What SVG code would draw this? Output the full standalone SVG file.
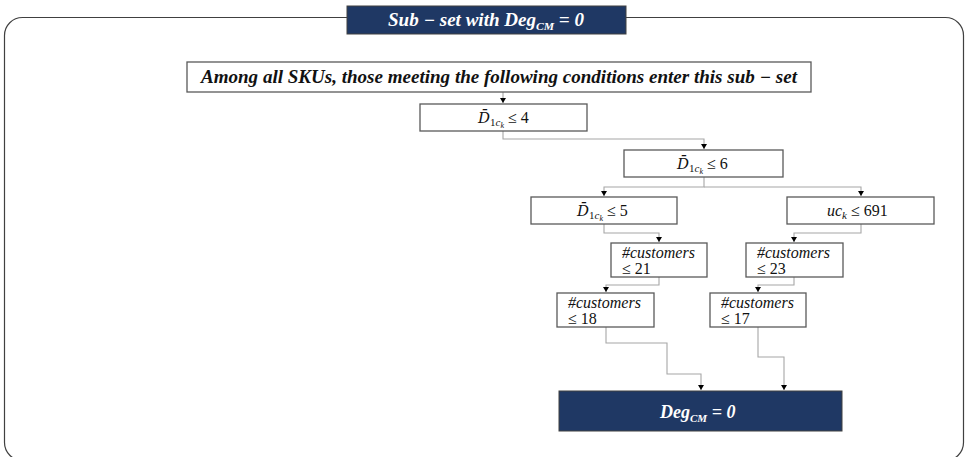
<svg xmlns="http://www.w3.org/2000/svg" width="965" height="457" viewBox="0 0 965 457">
<style>
.frame{fill:none;stroke:#404040;stroke-width:1.2}
.box{fill:#fff;stroke:#595959;stroke-width:1.3}
.dark{fill:#1F3864;stroke:#404040;stroke-width:1}
.conn{fill:none;stroke:#A6A6A6;stroke-width:1.1}
.ti{font-family:"Liberation Serif",serif;font-style:italic;font-size:16px;fill:#111}
.tn{font-family:"Liberation Serif",serif;font-size:16px;fill:#111}
.bh{font-family:"Liberation Serif",serif;font-style:italic;font-weight:bold;font-size:18px;fill:#111}
.wh{font-family:"Liberation Serif",serif;font-style:italic;font-weight:bold;font-size:18px;fill:#fff}
.dd{font-family:"DejaVu Serif",serif;font-style:italic;font-size:15px}
.sub{font-size:11px}
.sub2{font-size:8px}
</style>
<defs>
<marker id="ah" markerUnits="userSpaceOnUse" markerWidth="6" markerHeight="6" refX="5" refY="3" orient="auto">
<path d="M0,0 L5,3 L0,6 z" fill="#000"/>
</marker>
</defs>
<rect class="frame" x="4.5" y="17.5" width="959" height="443" rx="18"/>
<g id="title">
<rect class="dark" x="347" y="6" width="279" height="28"/>
<text class="wh" x="388" y="26" textLength="196" lengthAdjust="spacingAndGlyphs">Sub − set with Deg<tspan class="sub" dy="4" font-size="12">CM</tspan><tspan dy="-4"> = 0</tspan></text>
</g>
<g id="connectors">
<path class="conn" d="M503,92 V103" marker-end="url(#ah)"/>
<path class="conn" d="M503,131 V139 H704 V149" marker-end="url(#ah)"/>
<path class="conn" d="M704,177 V187 H604 V196" marker-end="url(#ah)"/>
<path class="conn" d="M704,187 H861 V196" marker-end="url(#ah)"/>
<path class="conn" d="M604,224 V233 H659 V242" marker-end="url(#ah)"/>
<path class="conn" d="M861,224 V233 H794 V242" marker-end="url(#ah)"/>
<path class="conn" d="M659,277 V285 H606 V292" marker-end="url(#ah)"/>
<path class="conn" d="M794,277 V285 H758 V292" marker-end="url(#ah)"/>
<path class="conn" d="M606,327 V343 H667 V374 H701 V390" marker-end="url(#ah)"/>
<path class="conn" d="M758,327 V357 H784 V390" marker-end="url(#ah)"/>
</g>
<g id="n-top">
<rect class="box" x="187" y="62" width="624" height="30"/>
<text class="bh" x="201" y="83" textLength="596" lengthAdjust="spacingAndGlyphs">Among all SKUs, those meeting the following conditions enter this sub − set</text>
</g>
<g id="n-d4">
<rect class="box" x="420" y="104" width="167" height="27"/>
<text class="ti" x="478" y="123"><tspan class="dd">D̄</tspan><tspan class="sub" dy="3" font-style="normal">1</tspan><tspan class="sub">c</tspan><tspan class="sub2" dy="2">k</tspan><tspan dy="-5" font-style="normal"> ≤ 4</tspan></text>
</g>
<g id="n-d6">
<rect class="box" x="624" y="150" width="159" height="27"/>
<text class="ti" x="677" y="169"><tspan class="dd">D̄</tspan><tspan class="sub" dy="3" font-style="normal">1</tspan><tspan class="sub">c</tspan><tspan class="sub2" dy="2">k</tspan><tspan dy="-5" font-style="normal"> ≤ 6</tspan></text>
</g>
<g id="n-d5">
<rect class="box" x="531" y="197" width="146" height="27"/>
<text class="ti" x="577" y="216"><tspan class="dd">D̄</tspan><tspan class="sub" dy="3" font-style="normal">1</tspan><tspan class="sub">c</tspan><tspan class="sub2" dy="2">k</tspan><tspan dy="-5" font-style="normal"> ≤ 5</tspan></text>
</g>
<g id="n-uc">
<rect class="box" x="787" y="197" width="147" height="27"/>
<text class="ti" x="827" y="216">uc<tspan class="sub" dy="3">k</tspan><tspan dy="-3" font-style="normal">  ≤ 691</tspan></text>
</g>
<g id="n-c21">
<rect class="box" x="611" y="243" width="96" height="34"/>
<text class="ti" x="622" y="258">#customers</text>
<text class="tn" x="622" y="274">≤ 21</text>
</g>
<g id="n-c23">
<rect class="box" x="746" y="243" width="97" height="34"/>
<text class="ti" x="757" y="258">#customers</text>
<text class="tn" x="757" y="274">≤ 23</text>
</g>
<g id="n-c18">
<rect class="box" x="557" y="293" width="97" height="34"/>
<text class="ti" x="568" y="308">#customers</text>
<text class="tn" x="568" y="324">≤ 18</text>
</g>
<g id="n-c17">
<rect class="box" x="710" y="293" width="96" height="34"/>
<text class="ti" x="721" y="308">#customers</text>
<text class="tn" x="721" y="324">≤ 17</text>
</g>
<g id="n-final">
<rect class="dark" x="559" y="391" width="283" height="40"/>
<text class="wh" x="660" y="418" font-size="19">Deg<tspan class="sub" dy="4" font-size="13">CM</tspan><tspan dy="-4"> = 0</tspan></text>
</g>
</svg>
